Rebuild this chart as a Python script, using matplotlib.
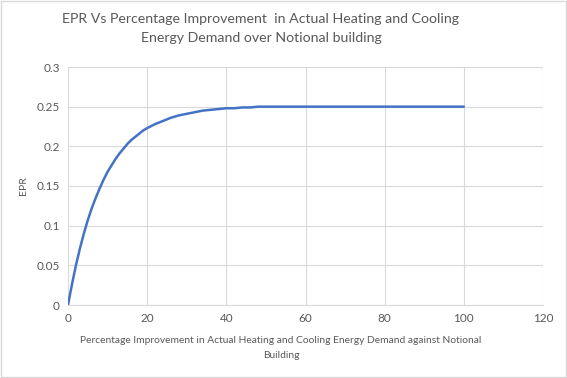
import matplotlib.pyplot as plt
from matplotlib.ticker import MultipleLocator
from matplotlib.patches import Rectangle

# values
improvement = [0, 1, 2, 3, 4, 5, 6, 7, 8, 9, 10, 11, 12, 13, 14, 15, 16, 17,
               18, 19, 20, 22, 24, 26, 28, 30, 32, 34, 36, 38, 40, 42, 44,
               46, 48, 50, 60, 70, 80, 90, 100]
epr = [0.0, 0.026, 0.050, 0.071, 0.090, 0.107, 0.122, 0.135, 0.147, 0.158,
       0.168, 0.176, 0.184, 0.191, 0.197, 0.203, 0.208, 0.212, 0.216, 0.220,
       0.223, 0.228, 0.232, 0.236, 0.239, 0.241, 0.243, 0.245, 0.246, 0.247,
       0.248, 0.248, 0.249, 0.249, 0.25, 0.25, 0.25, 0.25, 0.25, 0.25, 0.25]

title = ("EPR Vs Percentage Improvement  in Actual Heating and Cooling\n"
         "Energy Demand over Notional building")
xlabel = ("Percentage Improvement in Actual Heating and Cooling Energy Demand against Notional\n"
          "Building")
ylabel = "EPR"

plt.rcParams['font.family'] = ['Lato', 'DejaVu Sans']
text_col = '#595959'
grid_col = '#d9d9d9'

fig = plt.figure(figsize=(5.67, 3.78), dpi=100)
ax = fig.add_axes([68 / 567, 1 - 305 / 378, (543 - 68) / 567, (305 - 67) / 378])

ax.plot(improvement, epr, color='#4472C4', linewidth=1.8,
        solid_capstyle='round', solid_joinstyle='round')

ax.set_xlim(0, 120)
ax.set_ylim(0, 0.3)
ax.xaxis.set_major_locator(MultipleLocator(20))
ax.set_yticks([0, 0.05, 0.1, 0.15, 0.2, 0.25, 0.3])
ax.set_yticklabels(['0', '0.05', '0.1', '0.15', '0.2', '0.25', '0.3'])

ax.grid(True, color=grid_col, linewidth=0.8)
ax.set_axisbelow(True)
for side in ['top', 'right', 'left']:
    ax.spines[side].set_visible(False)
ax.spines['bottom'].set_color(grid_col)
ax.spines['bottom'].set_linewidth(0.8)
ax.tick_params(length=0, colors=text_col, labelsize=8.5, pad=6)

ax.set_xlabel(xlabel, color=text_col, fontsize=7.4, linespacing=1.8)
ax.xaxis.set_label_coords((281 - 68) / (543 - 68), -0.13)
ax.xaxis.label.set_va('top')
ax.set_ylabel(ylabel, color=text_col, fontsize=7.5, labelpad=6)
fig.suptitle(title, color=text_col, fontsize=10.2, x=261 / 567, y=0.965, linespacing=1.65)

fig.patches.append(Rectangle((0.002, 0.002), 0.996, 0.996, transform=fig.transFigure,
                             fill=False, edgecolor='#d9d9d9', linewidth=1))

fig.savefig('out.png', dpi=100)
